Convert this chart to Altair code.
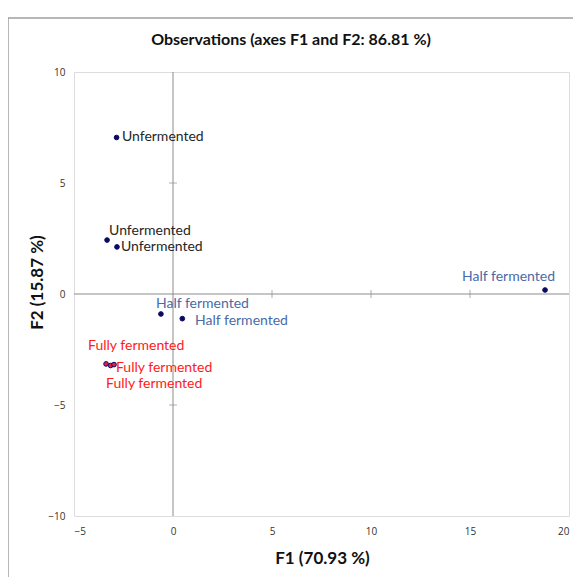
import altair as alt
import pandas as pd

labels = ["Unfermented", "Unfermented", "Unfermented",
          "Half fermented", "Half fermented", "Half fermented",
          "Fully fermented", "Fully fermented", "Fully fermented"]
groups = ["Unfermented"] * 3 + ["Half fermented"] * 3 + ["Fully fermented"] * 3
f1 = [-2.85, -3.33, -2.83, -0.61, 0.47, 18.79, -3.38, -3.15, -2.98]
f2 = [7.05, 2.43, 2.12, -0.90, -1.11, 0.18, -3.15, -3.22, -3.18]
label_f1 = [-2.58, -3.23, -2.63, -0.86, 1.11, 14.6, -4.29, -2.88, -3.38]
label_f2 = [7.07, 2.84, 2.10, -0.45, -1.22, 0.77, -2.34, -3.33, -4.05]

x_ticks = [-5, 0, 5, 10, 15, 20]
y_ticks = [-10, -5, 0, 5, 10]
x_cross = [5, 10, 15]
y_cross = [-5, 5]

chart_title = "Observations (axes F1 and F2: 86.81 %)"

df = pd.DataFrame({"label": labels, "group": groups, "F1": f1, "F2": f2,
                   "LF1": label_f1, "LF2": label_f2})

grp_order = ["Unfermented", "Half fermented", "Fully fermented"]
label_colors = ["#262626", "#4a6aa8", "#ff1a1a"]
point_fills = ["#0a0a64", "#0a0a64", "#e8203c"]

xs = alt.Scale(domain=[-5, 20], nice=False, zero=False)
ys = alt.Scale(domain=[-10, 10], nice=False, zero=False)

xaxis = alt.Axis(values=x_ticks, grid=False, ticks=False, domain=False,
                 labelFont="Open Sans", labelFontSize=10, labelColor="#333333",
                 labelPadding=10, title="F1 (70.93 %)", titleFont="Lato",
                 titleFontSize=17, titleFontWeight="bold", titleColor="#111111",
                 titleX=248, titleY=42, titleBaseline="middle")
yaxis = alt.Axis(values=y_ticks, grid=False, ticks=False, domain=False,
                 labelFont="Open Sans", labelFontSize=10, labelColor="#333333",
                 labelPadding=9, title="F2 (15.87 %)", titleFont="Lato",
                 titleFontSize=17, titleFontWeight="bold", titleColor="#111111",
                 titleX=-37, titleY=210, titleBaseline="middle", titleAngle=270)

one = pd.DataFrame({"a": [0]})
base = alt.Chart(df)

border = alt.Chart(one).mark_rect(
    fill=None, stroke="#a0a0a0", strokeWidth=1.5
).encode(x=alt.value(-66), x2=alt.value(600), y=alt.value(-54), y2=alt.value(600))

title_txt = alt.Chart(one).mark_text(
    text=chart_title, font="Lato", fontSize=16, fontWeight="bold", color="#111111",
    align="center", baseline="middle"
).encode(x=alt.value(217), y=alt.value(-32))

pts_axes = base.mark_point(opacity=0).encode(
    x=alt.X("F1:Q", scale=xs, axis=xaxis),
    y=alt.Y("F2:Q", scale=ys, axis=yaxis),
)

vline = alt.Chart(pd.DataFrame({"v": [0]})).mark_rule(color="#8c8c8c", strokeWidth=1).encode(
    x=alt.X("v:Q", scale=xs))
hline = alt.Chart(pd.DataFrame({"v": [0]})).mark_rule(color="#8c8c8c", strokeWidth=1).encode(
    y=alt.Y("v:Q", scale=ys))

xt = alt.Chart(pd.DataFrame({"v": x_cross, "z": [0] * len(x_cross)})).mark_tick(
    orient="vertical", size=8, thickness=1, color="#8c8c8c").encode(
    x=alt.X("v:Q", scale=xs), y=alt.Y("z:Q", scale=ys))
yt = alt.Chart(pd.DataFrame({"v": y_cross, "z": [0] * len(y_cross)})).mark_tick(
    orient="horizontal", size=8, thickness=1, color="#8c8c8c").encode(
    y=alt.Y("v:Q", scale=ys), x=alt.X("z:Q", scale=xs))

points = base.mark_point(filled=True, shape="circle", size=22, stroke="#0a0a64",
                         strokeWidth=1, opacity=1).encode(
    x=alt.X("F1:Q", scale=xs),
    y=alt.Y("F2:Q", scale=ys),
    fill=alt.Fill("group:N", scale=alt.Scale(domain=grp_order, range=point_fills), legend=None),
)

texts = base.mark_text(align="left", baseline="middle", font="Lato", fontSize=14).encode(
    x=alt.X("LF1:Q", scale=xs),
    y=alt.Y("LF2:Q", scale=ys),
    text="label:N",
    color=alt.Color("group:N", scale=alt.Scale(domain=grp_order, range=label_colors), legend=None),
)

chart = alt.layer(border, title_txt, pts_axes, vline, hline, xt, yt, points, texts).properties(
    width=495, height=444,
    autosize=alt.AutoSizeParams(type="none"),
    padding={"left": 66, "top": 64, "right": 4, "bottom": 61},
).configure_view(stroke="#8c8c8c", strokeWidth=1).configure(background="white")

chart.save("out.html", embed_options={"renderer": "svg", "actions": False})
